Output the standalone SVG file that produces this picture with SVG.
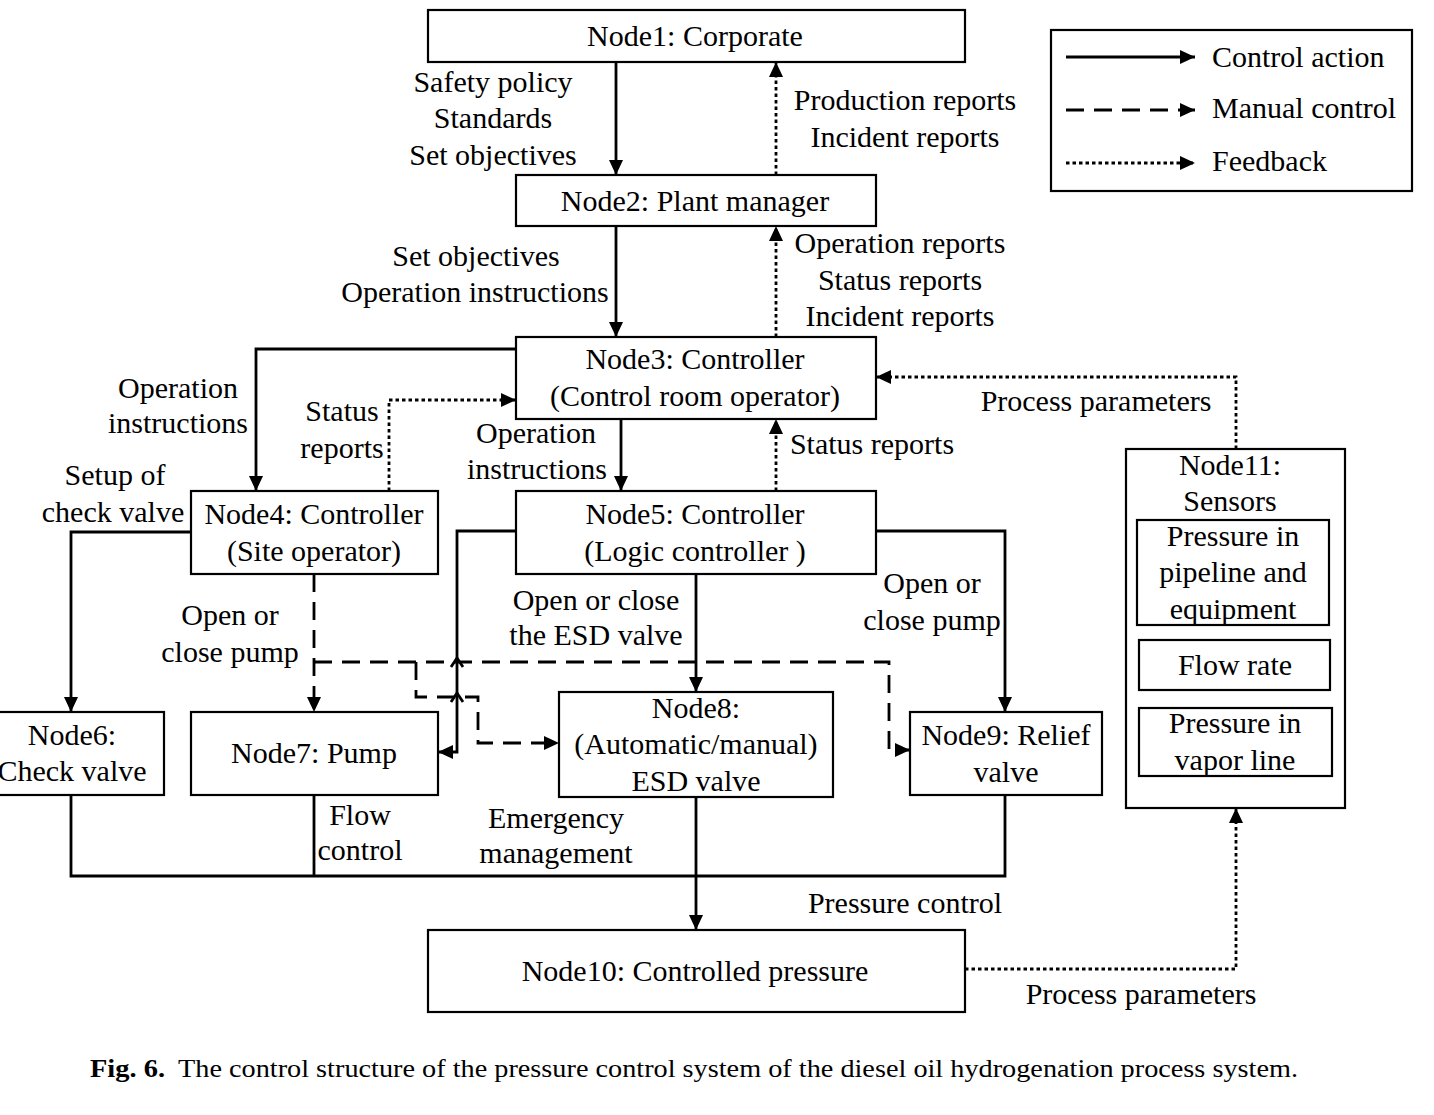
<svg xmlns="http://www.w3.org/2000/svg" width="1434" height="1115" viewBox="0 0 1434 1115">
<style>
text{font-family:"Liberation Serif","Times New Roman",serif;font-size:30px;fill:#000;text-anchor:middle}
.box{fill:#fff;stroke:#000;stroke-width:2.2}
.c{fill:none;stroke:#000;stroke-width:2.8}
.d{stroke-dasharray:18 10}
.f{stroke-dasharray:3.5 3}
.cap{font-size:26px;text-anchor:start}
</style>
<defs>
<marker id="a" markerUnits="userSpaceOnUse" markerWidth="16" markerHeight="14" refX="15" refY="7" orient="auto">
<path d="M0,0 L15,7 L0,14 z" fill="#000" stroke="none"/>
</marker>
</defs>
<rect width="1434" height="1115" fill="#fff"/>
<g id="connectors">
<path class="c" d="M616,62 V175" marker-end="url(#a)"/>
<path class="c f" d="M776,175 V62" marker-end="url(#a)"/>
<path class="c" d="M616,226 V337" marker-end="url(#a)"/>
<path class="c f" d="M776,337 V226" marker-end="url(#a)"/>
<path class="c" d="M516,349 H256 V491" marker-end="url(#a)"/>
<path class="c f" d="M389,491 V400 H516" marker-end="url(#a)"/>
<path class="c" d="M621,419 V491" marker-end="url(#a)"/>
<path class="c f" d="M776,491 V419" marker-end="url(#a)"/>
<path class="c f" d="M1236,449 V377 H876" marker-end="url(#a)"/>
<path class="c" d="M191,532 H71 V712" marker-end="url(#a)"/>
<path class="c d" d="M314,574 V712" marker-end="url(#a)"/>
<path class="c d" d="M314,662 H889 V750 H910" marker-end="url(#a)"/>
<path class="c d" d="M416,662 V697 H478 V743 H559" marker-end="url(#a)"/>
<path class="c" d="M516,531 H457 V752 H438" marker-end="url(#a)"/>
<path class="c" d="M451,667 L457,658 L463,667 M451,702 L457,693 L463,702"/>
<path class="c" d="M696,574 V692" marker-end="url(#a)"/>
<path class="c" d="M876,531 H1005 V712" marker-end="url(#a)"/>
<path class="c" d="M71,795 V876 H1005 V795 M314,795 V876"/>
<path class="c" d="M696,797 V930" marker-end="url(#a)"/>
<path class="c f" d="M965,969 H1236 V808" marker-end="url(#a)"/>
</g>
<g id="labels">
<text x="493" y="92">Safety policy</text>
<text x="493" y="128">Standards</text>
<text x="493" y="165">Set objectives</text>
<text x="905" y="110">Production reports</text>
<text x="905" y="147">Incident reports</text>
<text x="476" y="266">Set objectives</text>
<text x="475" y="302">Operation instructions</text>
<text x="900" y="253">Operation reports</text>
<text x="900" y="290">Status reports</text>
<text x="900" y="326">Incident reports</text>
<text x="178" y="398">Operation</text>
<text x="178" y="433">instructions</text>
<text x="342" y="421">Status</text>
<text x="342" y="458">reports</text>
<text x="536" y="443">Operation</text>
<text x="537" y="479">instructions</text>
<text x="872" y="454">Status reports</text>
<text x="1096" y="411">Process parameters</text>
<text x="115" y="485">Setup of</text>
<text x="113" y="522">check valve</text>
<text x="230" y="625">Open or</text>
<text x="230" y="662">close pump</text>
<text x="596" y="610">Open or close</text>
<text x="596" y="645">the ESD valve</text>
<text x="932" y="593">Open or</text>
<text x="932" y="630">close pump</text>
<text x="360" y="825">Flow</text>
<text x="360" y="860">control</text>
<text x="556" y="828">Emergency</text>
<text x="556" y="863">management</text>
<text x="905" y="913">Pressure control</text>
<text x="1141" y="1004">Process parameters</text>
</g>
<g id="node1"><rect class="box" x="428" y="10" width="537" height="52"/><text x="695" y="46">Node1: Corporate</text></g>
<g id="node2"><rect class="box" x="516" y="175" width="360" height="51"/><text x="695" y="211">Node2: Plant manager</text></g>
<g id="node3"><rect class="box" x="516" y="337" width="360" height="82"/><text x="695" y="369">Node3: Controller</text><text x="695" y="406">(Control room operator)</text></g>
<g id="node4"><rect class="box" x="191" y="491" width="247" height="83"/><text x="314" y="524">Node4: Controller</text><text x="314" y="561">(Site operator)</text></g>
<g id="node5"><rect class="box" x="516" y="491" width="360" height="83"/><text x="695" y="524">Node5: Controller</text><text x="695" y="561">(Logic controller )</text></g>
<g id="node6"><rect class="box" x="-4" y="712" width="168" height="83"/><text x="72" y="745">Node6:</text><text x="72" y="781">Check valve</text></g>
<g id="node7"><rect class="box" x="191" y="712" width="247" height="83"/><text x="314" y="763">Node7: Pump</text></g>
<g id="node8"><rect class="box" x="559" y="692" width="274" height="105"/><text x="696" y="718">Node8:</text><text x="696" y="754">(Automatic/manual)</text><text x="696" y="791">ESD valve</text></g>
<g id="node9"><rect class="box" x="910" y="712" width="192" height="83"/><text x="1006" y="745">Node9: Relief</text><text x="1006" y="782">valve</text></g>
<g id="node10"><rect class="box" x="428" y="930" width="537" height="82"/><text x="695" y="981">Node10: Controlled pressure</text></g>
<g id="node11">
<rect class="box" x="1126" y="449" width="219" height="359"/>
<text x="1230" y="475">Node11:</text><text x="1230" y="511">Sensors</text>
<rect class="box" x="1137" y="520" width="192" height="105"/>
<text x="1233" y="546">Pressure in</text><text x="1233" y="582">pipeline and</text><text x="1233" y="619">equipment</text>
<rect class="box" x="1139" y="640" width="191" height="50"/><text x="1235" y="675">Flow rate</text>
<rect class="box" x="1139" y="708" width="193" height="68"/><text x="1235" y="733">Pressure in</text><text x="1235" y="770">vapor line</text>
</g>
<g id="legend">
<rect class="box" x="1051" y="30" width="361" height="161"/>
<path class="c" d="M1066,57 H1195" marker-end="url(#a)"/>
<path class="c d" d="M1066,110 H1195" marker-end="url(#a)"/>
<path class="c f" d="M1066,163 H1195" marker-end="url(#a)"/>
<text x="1212" y="67" style="text-anchor:start">Control action</text>
<text x="1212" y="118" style="text-anchor:start">Manual control</text>
<text x="1212" y="171" style="text-anchor:start">Feedback</text>
</g>
<g id="caption">
<text class="cap" x="90" y="1077"><tspan font-weight="bold" textLength="75" lengthAdjust="spacingAndGlyphs">Fig. 6.</tspan><tspan x="178" textLength="1120" lengthAdjust="spacingAndGlyphs">The control structure of the pressure control system of the diesel oil hydrogenation process system.</tspan></text>
</g>
</svg>
